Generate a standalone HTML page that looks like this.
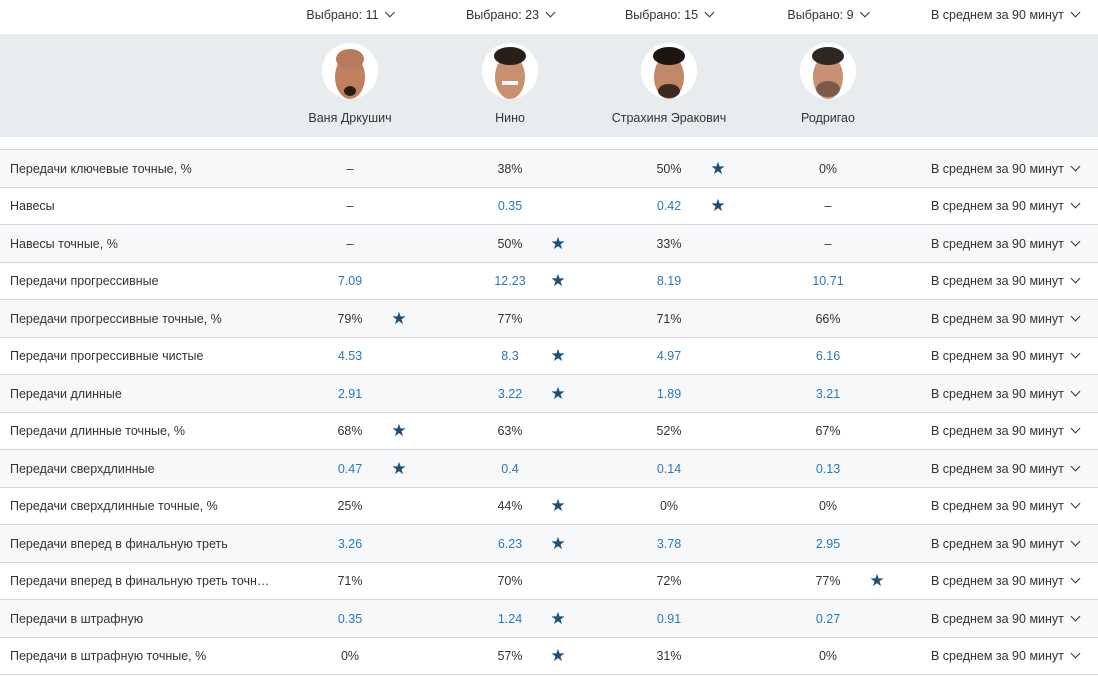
<!DOCTYPE html>
<html><head><meta charset="utf-8"><style>
*{margin:0;padding:0;box-sizing:border-box}
body{width:1098px;height:676px;overflow:hidden;background:#fff;font-family:"Liberation Sans","DejaVu Sans",sans-serif;font-size:12.5px;color:#333;position:relative}
.a{position:absolute;white-space:nowrap;margin-top:1px}
.c{transform:translateX(-50%)}
.chev{display:inline-block;width:7px;height:7px;border-right:1.6px solid #333;border-bottom:1.6px solid #333;transform:rotate(45deg);margin-left:8px;position:relative;top:-3px}
.band{position:absolute;left:0;top:34px;width:1098px;height:103px;background:#e9ecef}
.av{position:absolute;top:43px;width:56px;height:56px;border-radius:50%;background:#fff;overflow:hidden}
.row{position:absolute;left:0;width:1098px;height:37.5px;border-bottom:1px solid #d4d6d9}
.g{background:#f7f8fa}
.b{color:#2a78b8}
.s{color:#1b4f7c;font-size:17px}
</style></head><body>
<div class="a c" style="left:350px;top:7px">Выбрано: 11<span class="chev"></span></div>
<div class="a c" style="left:510px;top:7px">Выбрано: 23<span class="chev"></span></div>
<div class="a c" style="left:669px;top:7px">Выбрано: 15<span class="chev"></span></div>
<div class="a c" style="left:828px;top:7px">Выбрано: 9<span class="chev"></span></div>
<div class="a" style="left:931px;top:7px">В среднем за 90 минут<span class="chev"></span></div>

<div class="row g" style="top:150px"></div><div class="row" style="top:187.5px"></div>
<div class="row g" style="top:225px"></div><div class="row" style="top:262.5px"></div>
<div class="row g" style="top:300px"></div><div class="row" style="top:337.5px"></div>
<div class="row g" style="top:375px"></div><div class="row" style="top:412.5px"></div>
<div class="row g" style="top:450px"></div><div class="row" style="top:487.5px"></div>
<div class="row g" style="top:525px"></div><div class="row" style="top:562.5px"></div>
<div class="row g" style="top:600px"></div><div class="row" style="top:637.5px"></div>

<div class="band"></div>
<div style="position:absolute;left:0;top:137px;width:1098px;height:13px;background:#fff;border-bottom:1px solid #d4d6d9"></div>

<svg class="av" style="left:322px" viewBox="0 0 56 56"><ellipse cx="28" cy="34" rx="15" ry="22" fill="#c08060"/><ellipse cx="28" cy="16" rx="14" ry="10" fill="#b87a5c"/><ellipse cx="28" cy="48" rx="6" ry="5" fill="#2a1c14"/></svg>
<svg class="av" style="left:482px" viewBox="0 0 56 56"><ellipse cx="28" cy="34" rx="15" ry="22" fill="#c99070"/><ellipse cx="28" cy="13" rx="16" ry="9" fill="#2a1e18"/><rect x="20" y="38" width="16" height="4" fill="#fff"/></svg>
<svg class="av" style="left:641px" viewBox="0 0 56 56"><ellipse cx="28" cy="34" rx="15" ry="22" fill="#c08866"/><ellipse cx="28" cy="13" rx="16" ry="9" fill="#1e1510"/><ellipse cx="28" cy="48" rx="11" ry="7" fill="#3a2a20"/></svg>
<svg class="av" style="left:800px" viewBox="0 0 56 56"><ellipse cx="28" cy="34" rx="15" ry="22" fill="#c89272"/><ellipse cx="28" cy="13" rx="16" ry="9" fill="#2e2620"/><ellipse cx="28" cy="46" rx="12" ry="8" fill="#7a5a48"/></svg>
<div class="a c" style="left:350px;top:110px">Ваня Дркушич</div>
<div class="a c" style="left:510px;top:110px">Нино</div>
<div class="a c" style="left:669px;top:110px">Страхиня Эракович</div>
<div class="a c" style="left:828px;top:110px">Родригао</div>

<div class="a" style="left:10px;top:161px">Передачи ключевые точные, %</div>
<div class="a c" style="left:350px;top:161px">–</div><div class="a c" style="left:510px;top:161px">38%</div><div class="a c" style="left:669px;top:161px">50%</div><div class="a c s" style="left:718px;top:158px">★</div><div class="a c" style="left:828px;top:161px">0%</div>
<div class="a" style="left:931px;top:161px">В среднем за 90 минут<span class="chev"></span></div>

<div class="a" style="left:10px;top:198px">Навесы</div>
<div class="a c" style="left:350px;top:198px">–</div><div class="a c b" style="left:510px;top:198px">0.35</div><div class="a c b" style="left:669px;top:198px">0.42</div><div class="a c s" style="left:718px;top:195px">★</div><div class="a c" style="left:828px;top:198px">–</div>
<div class="a" style="left:931px;top:198px">В среднем за 90 минут<span class="chev"></span></div>

<div class="a" style="left:10px;top:236px">Навесы точные, %</div>
<div class="a c" style="left:350px;top:236px">–</div><div class="a c" style="left:510px;top:236px">50%</div><div class="a c s" style="left:558px;top:233px">★</div><div class="a c" style="left:669px;top:236px">33%</div><div class="a c" style="left:828px;top:236px">–</div>
<div class="a" style="left:931px;top:236px">В среднем за 90 минут<span class="chev"></span></div>

<div class="a" style="left:10px;top:273px">Передачи прогрессивные</div>
<div class="a c b" style="left:350px;top:273px">7.09</div><div class="a c b" style="left:510px;top:273px">12.23</div><div class="a c s" style="left:558px;top:270px">★</div><div class="a c b" style="left:669px;top:273px">8.19</div><div class="a c b" style="left:828px;top:273px">10.71</div>
<div class="a" style="left:931px;top:273px">В среднем за 90 минут<span class="chev"></span></div>

<div class="a" style="left:10px;top:311px">Передачи прогрессивные точные, %</div>
<div class="a c" style="left:350px;top:311px">79%</div><div class="a c s" style="left:399px;top:308px">★</div><div class="a c" style="left:510px;top:311px">77%</div><div class="a c" style="left:669px;top:311px">71%</div><div class="a c" style="left:828px;top:311px">66%</div>
<div class="a" style="left:931px;top:311px">В среднем за 90 минут<span class="chev"></span></div>

<div class="a" style="left:10px;top:348px">Передачи прогрессивные чистые</div>
<div class="a c b" style="left:350px;top:348px">4.53</div><div class="a c b" style="left:510px;top:348px">8.3</div><div class="a c s" style="left:558px;top:345px">★</div><div class="a c b" style="left:669px;top:348px">4.97</div><div class="a c b" style="left:828px;top:348px">6.16</div>
<div class="a" style="left:931px;top:348px">В среднем за 90 минут<span class="chev"></span></div>

<div class="a" style="left:10px;top:386px">Передачи длинные</div>
<div class="a c b" style="left:350px;top:386px">2.91</div><div class="a c b" style="left:510px;top:386px">3.22</div><div class="a c s" style="left:558px;top:383px">★</div><div class="a c b" style="left:669px;top:386px">1.89</div><div class="a c b" style="left:828px;top:386px">3.21</div>
<div class="a" style="left:931px;top:386px">В среднем за 90 минут<span class="chev"></span></div>

<div class="a" style="left:10px;top:423px">Передачи длинные точные, %</div>
<div class="a c" style="left:350px;top:423px">68%</div><div class="a c s" style="left:399px;top:420px">★</div><div class="a c" style="left:510px;top:423px">63%</div><div class="a c" style="left:669px;top:423px">52%</div><div class="a c" style="left:828px;top:423px">67%</div>
<div class="a" style="left:931px;top:423px">В среднем за 90 минут<span class="chev"></span></div>

<div class="a" style="left:10px;top:461px">Передачи сверхдлинные</div>
<div class="a c b" style="left:350px;top:461px">0.47</div><div class="a c s" style="left:399px;top:458px">★</div><div class="a c b" style="left:510px;top:461px">0.4</div><div class="a c b" style="left:669px;top:461px">0.14</div><div class="a c b" style="left:828px;top:461px">0.13</div>
<div class="a" style="left:931px;top:461px">В среднем за 90 минут<span class="chev"></span></div>

<div class="a" style="left:10px;top:498px">Передачи сверхдлинные точные, %</div>
<div class="a c" style="left:350px;top:498px">25%</div><div class="a c" style="left:510px;top:498px">44%</div><div class="a c s" style="left:558px;top:495px">★</div><div class="a c" style="left:669px;top:498px">0%</div><div class="a c" style="left:828px;top:498px">0%</div>
<div class="a" style="left:931px;top:498px">В среднем за 90 минут<span class="chev"></span></div>

<div class="a" style="left:10px;top:536px">Передачи вперед в финальную треть</div>
<div class="a c b" style="left:350px;top:536px">3.26</div><div class="a c b" style="left:510px;top:536px">6.23</div><div class="a c s" style="left:558px;top:533px">★</div><div class="a c b" style="left:669px;top:536px">3.78</div><div class="a c b" style="left:828px;top:536px">2.95</div>
<div class="a" style="left:931px;top:536px">В среднем за 90 минут<span class="chev"></span></div>

<div class="a" style="left:10px;top:573px">Передачи вперед в финальную треть точн…</div>
<div class="a c" style="left:350px;top:573px">71%</div><div class="a c" style="left:510px;top:573px">70%</div><div class="a c" style="left:669px;top:573px">72%</div><div class="a c" style="left:828px;top:573px">77%</div><div class="a c s" style="left:877px;top:570px">★</div>
<div class="a" style="left:931px;top:573px">В среднем за 90 минут<span class="chev"></span></div>

<div class="a" style="left:10px;top:611px">Передачи в штрафную</div>
<div class="a c b" style="left:350px;top:611px">0.35</div><div class="a c b" style="left:510px;top:611px">1.24</div><div class="a c s" style="left:558px;top:608px">★</div><div class="a c b" style="left:669px;top:611px">0.91</div><div class="a c b" style="left:828px;top:611px">0.27</div>
<div class="a" style="left:931px;top:611px">В среднем за 90 минут<span class="chev"></span></div>

<div class="a" style="left:10px;top:648px">Передачи в штрафную точные, %</div>
<div class="a c" style="left:350px;top:648px">0%</div><div class="a c" style="left:510px;top:648px">57%</div><div class="a c s" style="left:558px;top:645px">★</div><div class="a c" style="left:669px;top:648px">31%</div><div class="a c" style="left:828px;top:648px">0%</div>
<div class="a" style="left:931px;top:648px">В среднем за 90 минут<span class="chev"></span></div>
</body></html>
